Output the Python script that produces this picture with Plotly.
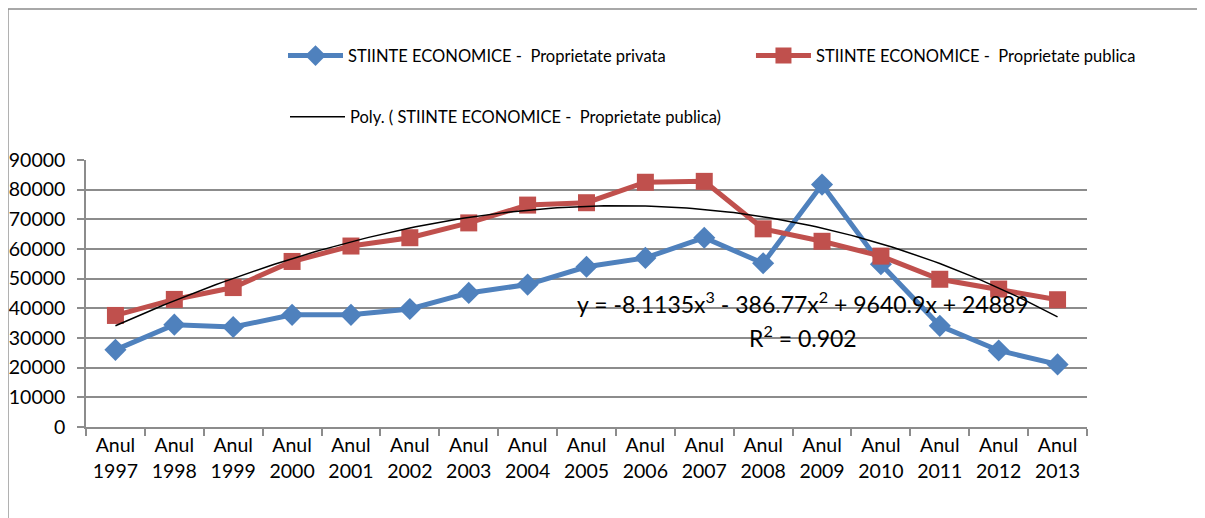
import plotly.graph_objects as go

# Date
ani = ["1997", "1998", "1999", "2000", "2001", "2002", "2003", "2004", "2005",
       "2006", "2007", "2008", "2009", "2010", "2011", "2012", "2013"]
privata = [26000, 34500, 33700, 37800, 37800, 39800, 45200, 48000, 54000,
           57000, 63800, 55200, 81700, 54900, 34100, 25800, 21100]
publica = [37600, 43000, 47000, 55800, 61000, 63800, 68800, 74800, 75600,
           82500, 82800, 66800, 62600, 57600, 49800, 46500, 42900]
# coeficientii trendului polinomial afisati pe grafic
coef = [-8.1135, -386.77, 9640.9, 24889]
r2 = 0.902

x = list(range(1, len(ani) + 1))
etichete = ["Anul<br>" + a for a in ani]

# curba trendului (x intre 1 si 17, pas fin)
xs = [1 + i * 0.1 for i in range(161)]
ys = [coef[0] * v ** 3 + coef[1] * v ** 2 + coef[2] * v + coef[3] for v in xs]

fig = go.Figure()
fig.add_trace(go.Scatter(
    x=x, y=privata, mode="lines+markers",
    name="STIINTE ECONOMICE -  Proprietate privata",
    line=dict(color="#4F81BD", width=5),
    marker=dict(symbol="diamond", size=17, color="#4F81BD"),
    legend="legend",
))
fig.add_trace(go.Scatter(
    x=x, y=publica, mode="lines+markers",
    name="STIINTE ECONOMICE -  Proprietate publica",
    line=dict(color="#C0504D", width=5),
    marker=dict(symbol="square", size=17, color="#C0504D"),
    legend="legend3",
))
fig.add_trace(go.Scatter(
    x=xs, y=ys, mode="lines",
    name="Poly. ( STIINTE ECONOMICE -  Proprietate publica)",
    line=dict(color="black", width=1.5),
    legend="legend2",
))

fig.add_annotation(x=12.68, y=41800, xref="x", yref="y", showarrow=False,
                   text="y = -8.1135x<sup>3</sup> - 386.77x<sup>2</sup> + 9640.9x + 24889",
                   font=dict(size=23, color="black"))
fig.add_annotation(x=12.68, y=30600, xref="x", yref="y", showarrow=False,
                   text="R<sup>2</sup> = " + str(r2),
                   font=dict(size=23, color="black"))

# chenarul graficului
fig.add_shape(type="rect", xref="paper", yref="paper",
              x0=-0.078, y0=-0.6, x1=1.5, y1=1.566,
              line=dict(color="#8c8c8c", width=1.5))

leg = dict(orientation="h", xanchor="left", yanchor="middle",
           font=dict(size=16.5), itemwidth=55, bgcolor="rgba(0,0,0,0)")

fig.update_layout(
    width=1205, height=518,
    margin=dict(l=78, r=126, t=152, b=99, autoexpand=False),
    paper_bgcolor="white", plot_bgcolor="white",
    font=dict(family="Lato", size=19.5, color="black"),
    showlegend=True,
    legend=dict(leg, x=0.1968, y=1.39),
    legend3=dict(leg, x=0.6643, y=1.39),
    legend2=dict(leg, x=0.1988, y=1.161),
    xaxis=dict(range=[0.5, 17.5], tickvals=x, ticktext=etichete, ticks="",
               showgrid=False, zeroline=False, showline=True,
               linecolor="#8c8c8c", linewidth=1.5,
               minor=dict(tickmode="linear", tick0=0.5, dtick=1, ticks="outside",
                          ticklen=7, tickcolor="#8c8c8c", tickwidth=1.5, showgrid=False)),
    yaxis=dict(range=[0, 90000], dtick=10000, tickformat="d", showgrid=True,
               gridcolor="#8c8c8c", gridwidth=1.5, zeroline=False, showline=True,
               linecolor="#8c8c8c", linewidth=1.5, ticks="outside", ticklen=7,
               tickcolor="#8c8c8c", tickwidth=1.5, ticklabelstandoff=8),
)

fig.write_html("out.html")
